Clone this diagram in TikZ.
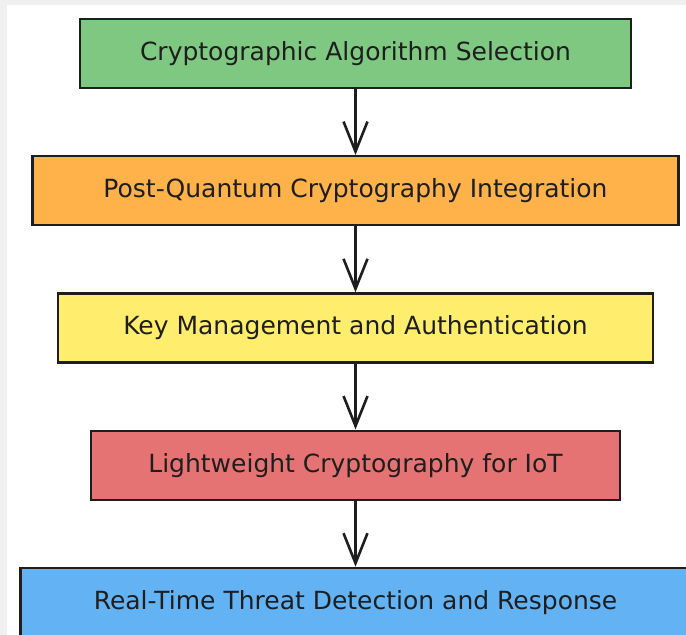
\documentclass[tikz,border=0pt]{standalone}
\usepackage{fontspec}
\setmainfont{DejaVu Sans}
\usetikzlibrary{positioning,arrows.meta}

\definecolor{inkgray}{HTML}{1E1E1E}
\definecolor{selgreen}{HTML}{7FC882}
\definecolor{pqorange}{HTML}{FFB14A}
\definecolor{keyyellow}{HTML}{FFEE6E}
\definecolor{litered}{HTML}{E57373}
\definecolor{threatblue}{HTML}{63B3F4}

\begin{document}
\begin{tikzpicture}[x=1pt, y=1pt,
  stagebox/.style = {draw = inkgray, line width = 2.2pt, shape = rectangle, minimum height = 69pt, inner sep = 0pt, font = \fontsize{25}{30}\selectfont, text = inkgray},
  flow/.style = {-{Straight Barb[length=30pt, width=24pt, line width=2.6pt]}, line width = 2.6pt, draw = inkgray},
  node distance = 66pt]
\fill[gray!12] (0,0) rectangle (686,-635);
\fill[white] (7,-5) rectangle (686,-635);
\useasboundingbox (0,0) rectangle (686,-635);

\node[stagebox, fill = selgreen, minimum width = 551pt] (select) at (355.5,-53.5) {Cryptographic Algorithm Selection};
\node[stagebox, fill = pqorange, minimum width = 646pt, below = of select] (postq) {Post-Quantum Cryptography Integration};
\node[stagebox, fill = keyyellow, minimum width = 595pt, below = of postq] (keymgmt) {Key Management and Authentication};
\node[stagebox, fill = litered, minimum width = 529pt, below = of keymgmt] (lightw) {Lightweight Cryptography for IoT};
\node[stagebox, fill = threatblue, minimum width = 670pt, below = of lightw] (threat) {Real-Time Threat Detection and Response};

\draw[flow] (select) -- (postq);
\draw[flow] (postq) -- (keymgmt);
\draw[flow] (keymgmt) -- (lightw);
\draw[flow] (lightw) -- (threat);
\end{tikzpicture}
\end{document}
